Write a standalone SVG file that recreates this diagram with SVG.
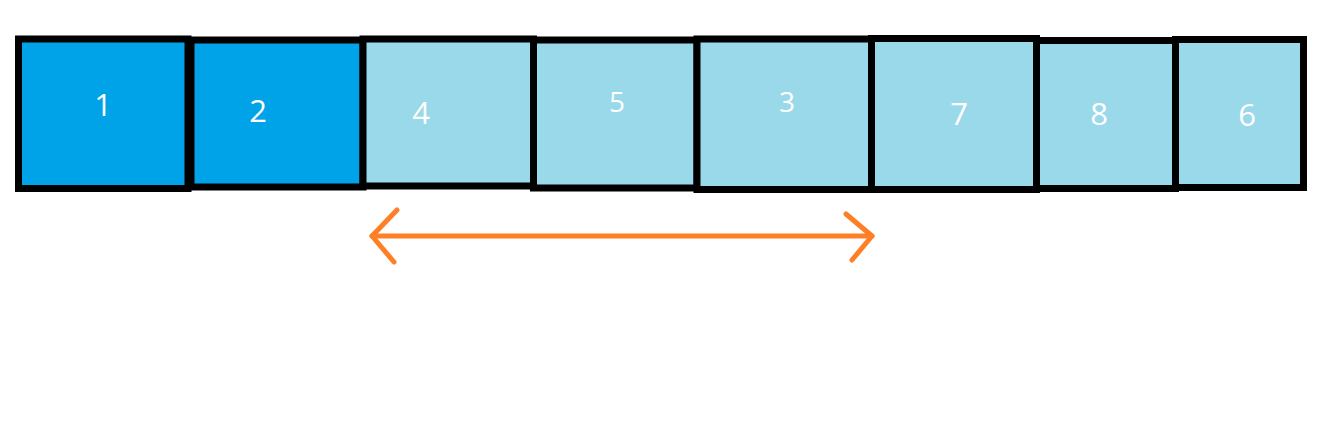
<svg xmlns="http://www.w3.org/2000/svg" width="1327" height="424" viewBox="0 0 1327 424">
<style>
.box{stroke:#000;stroke-width:7}
.dark{fill:#00A2E8}
.light{fill:#99D9EA}
.lbl{font-family:"Open Sans","Liberation Sans",sans-serif;fill:#fff;text-anchor:middle}
.big{font-size:31px}
.small{font-size:28px}
.arrow{fill:none;stroke:#FF7F27;stroke-width:5;stroke-linecap:round;stroke-linejoin:round}
</style>
<rect width="1327" height="424" fill="#fff"/>
<g id="n1"><rect class="box dark" x="18.5" y="39" width="169.5" height="149.5"/><text class="lbl big" x="103" y="116">1</text></g>
<g id="n2"><rect class="box dark" x="191" y="40" width="172" height="147"/><text class="lbl big" x="258" y="122">2</text></g>
<g id="n4"><rect class="box light" x="363" y="39" width="170.5" height="147"/><text class="lbl big" x="421" y="124">4</text></g>
<g id="n5"><rect class="box light" x="533.5" y="40" width="163.5" height="148"/><text class="lbl small" x="617" y="112">5</text></g>
<g id="n3"><rect class="box light" x="697" y="39" width="174.5" height="150.5"/><text class="lbl small" x="787" y="112">3</text></g>
<g id="n7"><rect class="box light" x="871.5" y="38.5" width="165" height="151"/><text class="lbl big" x="959" y="125">7</text></g>
<g id="n8"><rect class="box light" x="1036.5" y="40.5" width="139" height="148"/><text class="lbl big" x="1099" y="125">8</text></g>
<g id="n6"><rect class="box light" x="1175.5" y="39.5" width="128" height="148"/><text class="lbl big" x="1247" y="126">6</text></g>
<g id="connectors">
<path class="arrow" d="M372 236 H872"/>
<path class="arrow" d="M397 210 L372 236 L394 262"/>
<path class="arrow" d="M846 214 L872 236 L852 260"/>
</g>
</svg>
